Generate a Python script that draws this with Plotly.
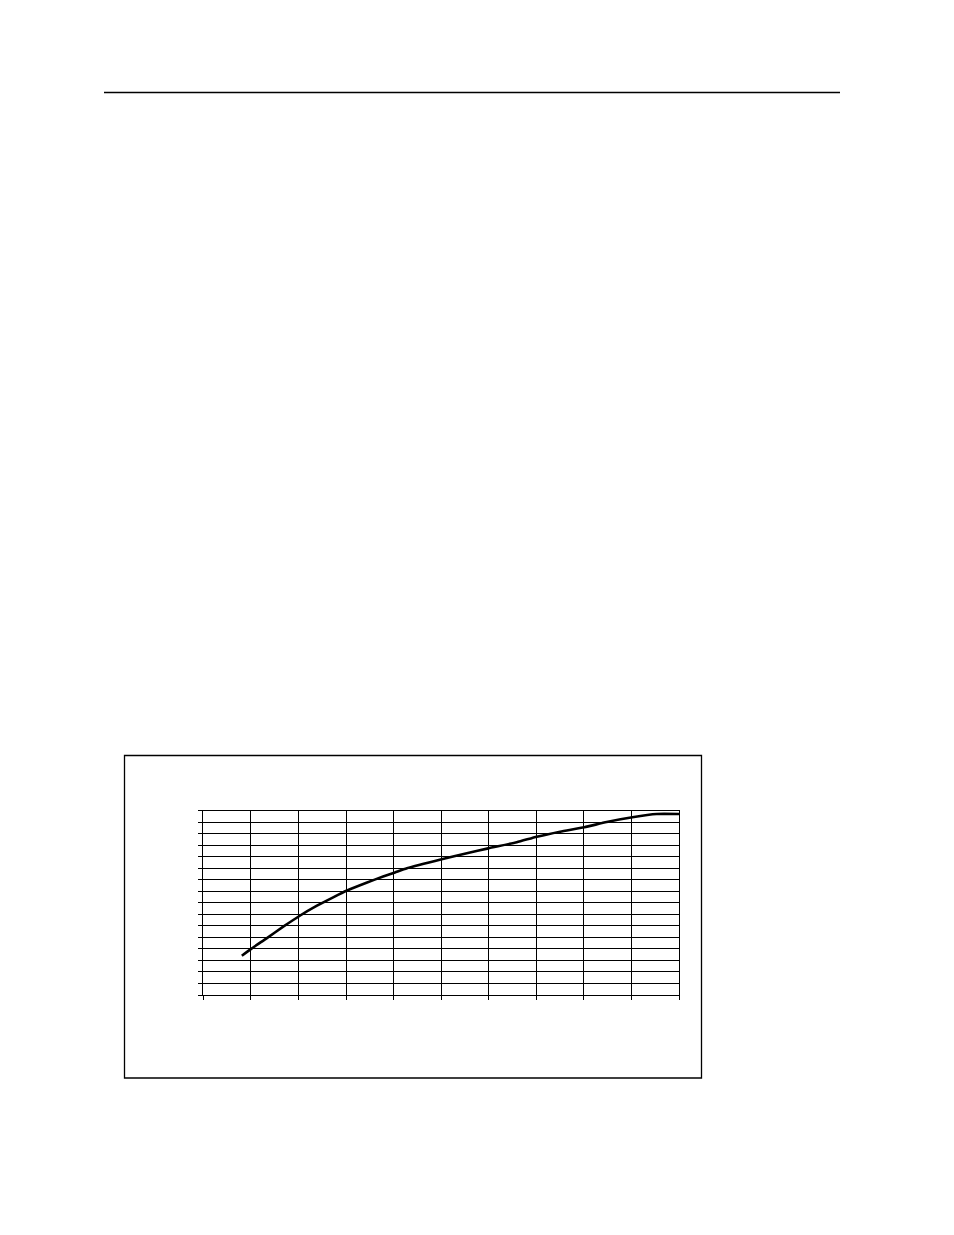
import plotly.graph_objects as go

# curve: x in column units (0-10), y in row units (0-16)
x_vals = [0.81, 1.02, 1.33, 1.68, 2.02, 2.38, 2.73, 3.01, 3.43, 3.78, 4.03,
          4.28, 5.01, 5.54, 5.99, 6.59, 7.01, 7.50, 8.01, 8.48, 9.02, 9.53, 10.0]
y_vals = [3.41, 4.05, 4.92, 5.93, 6.86, 7.73, 8.48, 9.05, 9.75, 10.28, 10.64,
          11.00, 11.78, 12.30, 12.73, 13.26, 13.74, 14.18, 14.56, 15.02, 15.43, 15.71, 15.71]

x_ticks = list(range(0, 11))
y_ticks = list(range(0, 17))

W, H = 954, 1235
OFF = 8  # the page body adds an 8px margin around the figure


def px_x(v):
    return (v - OFF) / W


def px_y(v):
    return (H - (v - OFF)) / H


fig = go.Figure()
fig.add_trace(go.Scatter(
    x=x_vals, y=y_vals, mode="lines",
    line=dict(color="black", width=2.6, shape="spline", smoothing=0.5),
    showlegend=False, hoverinfo="skip",
))

axis_common = dict(
    showgrid=True, gridcolor="black", gridwidth=1.3,
    showline=True, linecolor="black", linewidth=1.3, mirror=True,
    ticks="outside", ticklen=4, tickcolor="black", tickwidth=1.3,
    showticklabels=False, zeroline=False, fixedrange=True,
)

fig.update_layout(
    width=W, height=H,
    margin=dict(l=0, r=0, t=0, b=0),
    paper_bgcolor="white", plot_bgcolor="white",
    xaxis=dict(range=[0, 10], tickvals=x_ticks,
               domain=[px_x(203.3), px_x(679)], **axis_common),
    yaxis=dict(range=[0, 16], tickvals=y_ticks,
               domain=[px_y(995), px_y(810.7)], **axis_common),
    shapes=[
        # page header rule
        dict(type="line", xref="paper", yref="paper",
             x0=px_x(104), x1=px_x(840), y0=px_y(92.5), y1=px_y(92.5),
             line=dict(color="black", width=1.5)),
        # chart frame
        dict(type="rect", xref="paper", yref="paper",
             x0=px_x(124.5), x1=px_x(701.5), y0=px_y(1078), y1=px_y(755.5),
             line=dict(color="black", width=1.3)),
    ],
)

fig.write_html("out.html")
